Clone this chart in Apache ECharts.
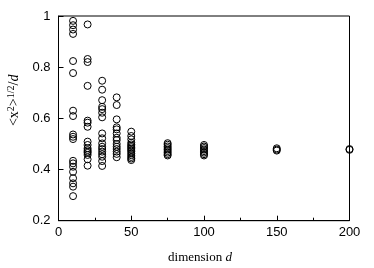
<!DOCTYPE html>
<html><head><meta charset="utf-8">
<script src="https://cdn.jsdelivr.net/npm/echarts@6/dist/echarts.min.js"></script>
<style>html,body{margin:0;padding:0;background:#fff}#c{width:374px;height:268px}</style>
</head><body><div id="c"></div>
<script>
const dims = [10, 20, 30, 40, 50, 75, 100, 150, 200];
const y10 = [0.981, 0.964, 0.947, 0.930, 0.824, 0.777, 0.630, 0.609, 0.537, 0.528, 0.519, 0.434, 0.424, 0.411, 0.391, 0.366, 0.346, 0.333, 0.296];
const y20 = [0.967, 0.832, 0.820, 0.727, 0.591, 0.583, 0.567, 0.509, 0.496, 0.483, 0.476, 0.470, 0.465, 0.457, 0.440, 0.415];
const y30 = [0.747, 0.712, 0.671, 0.645, 0.636, 0.622, 0.604, 0.541, 0.522, 0.502, 0.489, 0.480, 0.470, 0.460, 0.450, 0.433, 0.414];
const y40 = [0.682, 0.652, 0.596, 0.565, 0.557, 0.541, 0.524, 0.515, 0.500, 0.489, 0.480, 0.470, 0.461, 0.448];
const y50 = [0.548, 0.531, 0.518, 0.505, 0.498, 0.492, 0.487, 0.481, 0.476, 0.470, 0.463, 0.456, 0.449, 0.443, 0.437];
const y75 = [0.503, 0.497, 0.490, 0.484, 0.478, 0.472, 0.466, 0.460, 0.455];
const y100 = [0.496, 0.490, 0.484, 0.478, 0.472, 0.466, 0.460, 0.455];
const y150 = [0.483, 0.478, 0.474];
const y200 = [0.480, 0.477];
const yByDim = [y10, y20, y30, y40, y50, y75, y100, y150, y200];
const xTicks = [0, 50, 100, 150, 200];
const yTicks = [0.2, 0.4, 0.6, 0.8, 1];

const points = [];
dims.forEach((d, i) => yByDim[i].forEach(v => points.push([d, v])));

const chart = echarts.init(document.getElementById('c'), null, {renderer: 'canvas'});
chart.setOption({
  animation: false,
  backgroundColor: '#fff',
  grid: {left: 58.5, right: 24.5, top: 16, bottom: 47.3, outerBoundsMode: 'none', containLabel: false,
    show: true, borderColor: '#000', borderWidth: 1, backgroundColor: 'transparent'},
  xAxis: {
    type: 'value', min: xTicks[0], max: xTicks[xTicks.length - 1], interval: 50,
    axisLine: {show: true, onZero: false, lineStyle: {color: '#000', width: 1}},
    axisTick: {show: true, inside: true, length: 5, lineStyle: {color: '#000'}},
    minorTick: {show: true, splitNumber: 2, length: 3, lineStyle: {color: '#000'}},
    splitLine: {show: false},
    axisLabel: {color: '#000', fontFamily: 'Liberation Sans', fontSize: 13, margin: 5},
    name: 'dimension {i|d}', nameLocation: 'middle', nameGap: 30,
    nameTextStyle: {color: '#000', fontFamily: 'Liberation Serif', fontSize: 13, padding: [0, 8, 0, 0],
      rich: {i: {fontStyle: 'italic', fontFamily: 'Liberation Serif', fontSize: 13, color: '#000'}}}
  },
  yAxis: {
    type: 'value', min: yTicks[0], max: yTicks[yTicks.length - 1], interval: 0.2,
    axisLine: {show: true, onZero: false, lineStyle: {color: '#000', width: 1}},
    axisTick: {show: true, inside: true, length: 5, lineStyle: {color: '#000'}},
    splitLine: {show: false},
    axisLabel: {color: '#000', fontFamily: 'Liberation Sans', fontSize: 13, margin: 8},
    name: '<x{sup|2}>{sup|1/2}/{i|d}', nameLocation: 'middle', nameGap: 33, nameRotate: 90,
    nameTextStyle: {color: '#000', fontFamily: 'Liberation Serif', fontSize: 14, padding: [0, 0, 0, 36],
      rich: {
        sup: {fontSize: 10, fontFamily: 'Liberation Serif', color: '#000', verticalAlign: 'top', padding: [0, 0, 7, 0]},
        i: {fontStyle: 'italic', fontFamily: 'Liberation Serif', fontSize: 14, color: '#000'}
      }}
  },
  series: [{
    type: 'scatter', data: points, symbol: 'circle', symbolSize: 7,
    itemStyle: {color: 'rgba(0,0,0,0)', borderColor: '#000', borderWidth: 1, opacity: 1},
    emphasis: {disabled: true}
  }]
});
</script></body></html>
